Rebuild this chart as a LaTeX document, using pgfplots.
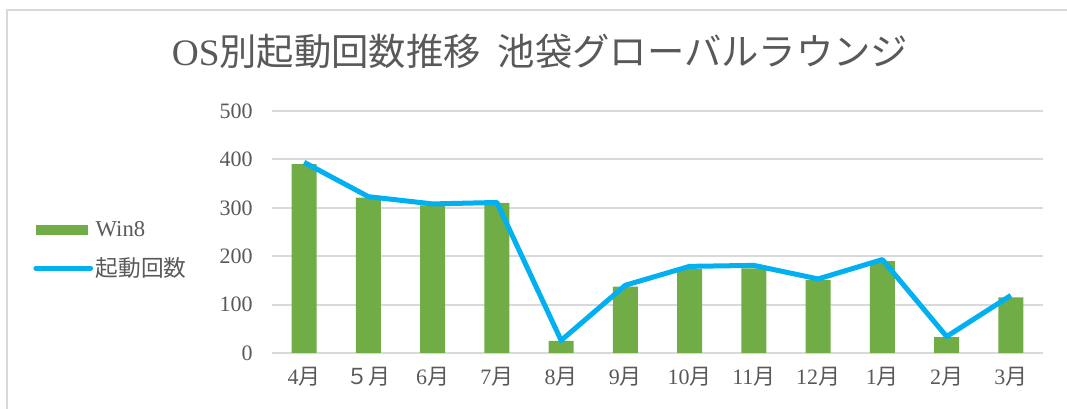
\documentclass[border=0pt]{standalone}
\usepackage{fontspec}
\setmainfont{Liberation Serif}
\newfontfamily\cjk{Noto Sans CJK JP}
\usepackage{pgfplots}
\pgfplotsset{compat=1.18}
\definecolor{barg}{HTML}{70AD47}
\definecolor{lineb}{HTML}{00B0F0}
\definecolor{gridc}{HTML}{D9D9D9}
\definecolor{txt}{HTML}{595959}
\begin{document}
\begin{tikzpicture}
\begin{scope}[x=0.75pt,y=0.75pt]
\path[use as bounding box] (0,0) rectangle (1067,409);
\draw[gridc, line width=1.5pt] (7,-2) -- (7,399) -- (1069,399);
\node[txt, font=\fontsize{28}{28}\selectfont] at (540,358) {OS{\cjk 別起動回数推移}\hspace{0.45em}{\cjk 池袋グローバルラウンジ}};
\end{scope}
\begin{axis}[
  at={(204pt,42pt)}, anchor=south west,
  scale only axis, width=578.25pt, height=181.5pt,
  xmin=-0.5, xmax=11.5, ymin=0, ymax=500,
  ytick={0,100,...,500},
  xtick={0,...,11},
  xticklabels={4{\cjk 月},{\cjk ５月},6{\cjk 月},7{\cjk 月},8{\cjk 月},9{\cjk 月},10{\cjk 月},11{\cjk 月},12{\cjk 月},1{\cjk 月},2{\cjk 月},3{\cjk 月}},
  axis line style={draw=none},
  major tick length=0pt,
  ymajorgrids,
  grid style={gridc, line width=1.5pt},
  tick label style={text=txt, font=\fontsize{16.5}{16.5}\selectfont},
  /pgf/number format/assume math mode=true,
  yticklabel style={xshift=-11pt},
  xticklabel style={yshift=-7pt},
  legend style={draw=none, fill=none, at={(-0.315,0.565)}, anchor=north west,
    font=\fontsize{17}{17}\selectfont, text=txt, row sep=10pt},
  legend cell align=left,
]
\addplot[ybar, fill=barg, draw=none, bar width=18.75pt,
  legend image code/.code={\fill[barg] (0pt,-3.75pt) rectangle (39pt,3.75pt);}]
  coordinates {(0,390) (1,321) (2,305) (3,310) (4,25) (5,137) (6,174) (7,175) (8,151) (9,190) (10,33) (11,115)};
\addlegendentry{Win8}
\addplot[lineb, line width=3.75pt, line join=round, mark=none,
  legend image code/.code={\draw[lineb, line width=3.75pt, line cap=round] (0pt,0pt) -- (41pt,0pt);}]
  coordinates {(0,394) (1,323) (2,308) (3,311) (4,26) (5,140) (6,179) (7,181) (8,153) (9,193) (10,34) (11,119)};
\addlegendentry{{\cjk 起動回数}}
\end{axis}
\end{tikzpicture}
\end{document}
